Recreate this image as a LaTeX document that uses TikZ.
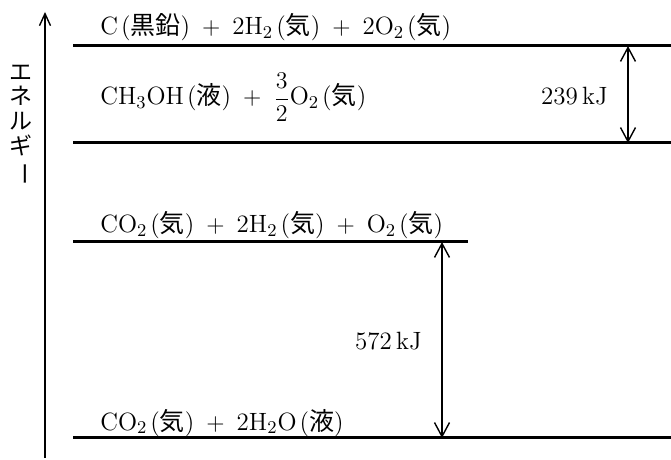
\documentclass[tikz,border=0pt]{standalone}
\usepackage{amsmath}
\usepackage{fontspec}
\newfontfamily\jp{Noto Sans CJK JP}
\usetikzlibrary{arrows.meta}
\newcommand{\kj}[1]{{\jp #1}}
\newcommand{\pk}[1]{\kern0.12em(\kj{#1})}
\newcommand{\pl}{\hspace{0.48em}$+$\hspace{0.48em}}
\begin{document}
\begin{tikzpicture}[x=0.5pt,y=-0.5pt,
  level/.style={line width=1.5pt},
  dbl/.style={line width=0.7pt,{Straight Barb[length=7pt,width=7.5pt]}-{Straight Barb[length=7pt,width=7.5pt]}},
  lab/.style={anchor=base west,inner sep=0pt,font=\fontsize{12.5}{14}\selectfont},
  val/.style={anchor=base east,inner sep=0pt,font=\fontsize{12.5}{14}\selectfont}]
\useasboundingbox (0,0) rectangle (671,460);
% axis
\coordinate (ab) at (45,458);
\coordinate (at) at (45,12);
\draw[line width=0.7pt,-{Straight Barb[length=6pt,width=5.5pt]}] (ab) -- (at);
\node[inner sep=0pt,align=center,font=\fontsize{11.5}{12.3}\selectfont\jp] (ax) at (21,125)
  {エ\\ネ\\ル\\ギ\\\rotatebox[origin=c]{-90}{ー}};
% levels
\coordinate (l1a) at (73,46); \coordinate (l1b) at (671,46);
\coordinate (l2a) at (73,143); \coordinate (l2b) at (671,143);
\coordinate (l3a) at (73,242); \coordinate (l3b) at (468,242);
\coordinate (l4a) at (73,438); \coordinate (l4b) at (671,438);
\draw[level] (l1a) -- (l1b);
\draw[level] (l2a) -- (l2b);
\draw[level] (l3a) -- (l3b);
\draw[level] (l4a) -- (l4b);
% labels
\node[lab] (t1) at (100,35) {C\pk{黒鉛}\pl 2H$_2$\pk{気}\pl 2O$_2$\pk{気}};
\node[lab] (t2) at (100,105) {CH$_3$OH\pk{液}\pl$\dfrac{3}{2}$O$_2$\pk{気}};
\node[lab] (t3) at (100,233) {CO$_2$\pk{気}\pl 2H$_2$\pk{気}\pl O$_2$\pk{気}};
\node[lab] (t4) at (100,430) {CO$_2$\pk{気}\pl 2H$_2$O\pk{液}};
% arrows
\coordinate (a1t) at (628,46); \coordinate (a1b) at (628,143);
\draw[dbl] (a1t) -- (a1b);
\node[val] (v1) at (608,105) {239\,kJ};
\coordinate (a2t) at (442,242); \coordinate (a2b) at (442,438);
\draw[dbl] (a2t) -- (a2b);
\node[val] (v2) at (422,350) {572\,kJ};
\end{tikzpicture}
\end{document}
